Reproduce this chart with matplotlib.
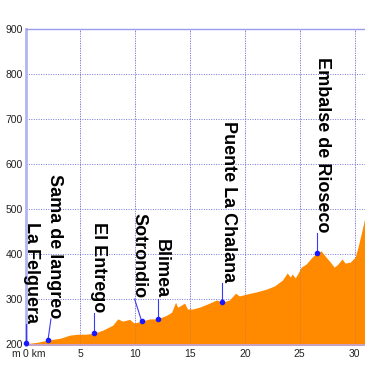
import matplotlib
matplotlib.use("Agg")
import matplotlib.pyplot as plt

# Elevation profile (km, m)
km = [0.0, 0.41, 1.05, 2.05, 3.14, 4.05, 4.77, 5.5, 6.23, 7.05, 7.95, 8.41, 8.86, 9.5,
      9.77, 9.95, 10.59, 11.32, 12.05, 12.86, 13.32, 13.68, 13.86, 14.23, 14.5, 14.77,
      15.23, 15.86, 16.77, 17.41, 17.95, 18.59, 19.14, 19.5, 20.14, 21.05, 21.95, 22.68,
      23.41, 23.86, 24.14, 24.32, 24.59, 24.86, 25.14, 25.59, 26.05, 26.5, 26.95, 27.41,
      27.86, 28.14, 28.41, 28.86, 29.14, 29.59, 30.05, 30.32, 30.68, 30.95]
elev = [201, 202, 204, 209, 213, 220, 222, 222, 224, 231, 242, 256, 251, 255,
        249, 247, 251, 256, 256, 264, 271, 293, 282, 287, 291, 278,
        278, 282, 291, 298, 293, 298, 313, 307, 311, 316, 322, 329,
        342, 358, 349, 356, 347, 358, 371, 378, 391, 402, 407, 393,
        380, 371, 376, 389, 380, 382, 393, 416, 453, 482]

# Places
names = ["La Felguera", "Sama de langreo", "El Entrego", "Sotrondio", "Blimea",
         "Puente La Chalana", "Embalse de Rioseco"]
place_km = [0.05, 2.05, 6.23, 10.59, 12.05, 17.95, 26.6]
place_elev = [202, 209, 224, 251, 256, 293, 402]
label_km = [0.59, 2.68, 6.68, 10.32, 12.4, 18.5, 27.05]
label_bottom = [247, 258, 271, 302, 302, 338, 449]
line_top_km = [0.05, 2.32, 6.23, 9.95, 12.05, 17.95, 26.6]

y_ticks = [200, 300, 400, 500, 600, 700, 800, 900]
x_ticks = [5, 10, 15, 20, 25, 30]

W, H = 365, 376
fig = plt.figure(figsize=(W / 100, H / 100), dpi=100)
ax = fig.add_axes([25.5 / W, (H - 345) / H, 1 - 25.5 / W, (345 - 29) / H])
ax.set_xlim(0, 30.95)
ax.set_ylim(198, 900)

ax.fill_between(km, 0, elev, color="#ff8a00", linewidth=0, zorder=2)

# grid
for x in x_ticks:
    ax.axvline(x, color="#7676d8", linestyle=(0, (1, 1.5)), linewidth=0.7, zorder=1)
for y in y_ticks[1:-1]:
    ax.axhline(y, color="#7676d8", linestyle=(0, (1, 1.5)), linewidth=0.7, zorder=1)
for x in x_ticks:
    ax.axvline(x, ymax=1, color="#7a4fb0", linestyle=(0, (1, 1.5)), linewidth=0.6, zorder=2.5, alpha=0.35)

ax.spines["right"].set_visible(False)
ax.spines["left"].set_color("#b4b4f4")
ax.spines["left"].set_linewidth(2)
ax.spines["top"].set_color("#9a9af0")
ax.spines["top"].set_linewidth(1)
ax.spines["bottom"].set_color("#c0a8e8")
ax.spines["bottom"].set_linewidth(1.2)

ax.set_yticks(y_ticks)
ax.set_yticklabels([str(v) for v in y_ticks])
ax.set_xticks(x_ticks)
ax.set_xticklabels([str(v) for v in x_ticks])
ax.tick_params(length=0, labelsize=7.5, labelcolor="#222222", pad=3)
for lab in ax.get_yticklabels() + ax.get_xticklabels():
    lab.set_fontfamily("Liberation Sans")
ax.tick_params(axis="y", pad=2)

ax.annotate("0 km", xy=(-0.23, 0), xycoords=("data", "axes fraction"),
            xytext=(0, -3), textcoords="offset points", ha="left", va="top",
            fontsize=7.5, color="#222222", family="Liberation Sans", annotation_clip=False)
ax.annotate("m", xy=(-0.86, 0), xycoords=("data", "axes fraction"),
            xytext=(0, -3), textcoords="offset points", ha="center", va="top",
            fontsize=7.5, color="#222222", family="Liberation Sans", annotation_clip=False)

for n, pk, pe, lk, lb, tk in zip(names, place_km, place_elev, label_km, label_bottom, line_top_km):
    ax.plot([tk, pk], [lb - 2, pe], color="#3a3af0", linewidth=0.8, zorder=4, clip_on=False)
    ax.plot([pk], [pe], "o", color="#1a1aff", markersize=3, zorder=5, clip_on=False)
    ax.text(lk, lb, n, rotation=270, ha="center", va="bottom", fontsize=13,
            fontweight="bold", family="Liberation Sans", color="black", zorder=6)

fig.savefig("out.png", dpi=100)
